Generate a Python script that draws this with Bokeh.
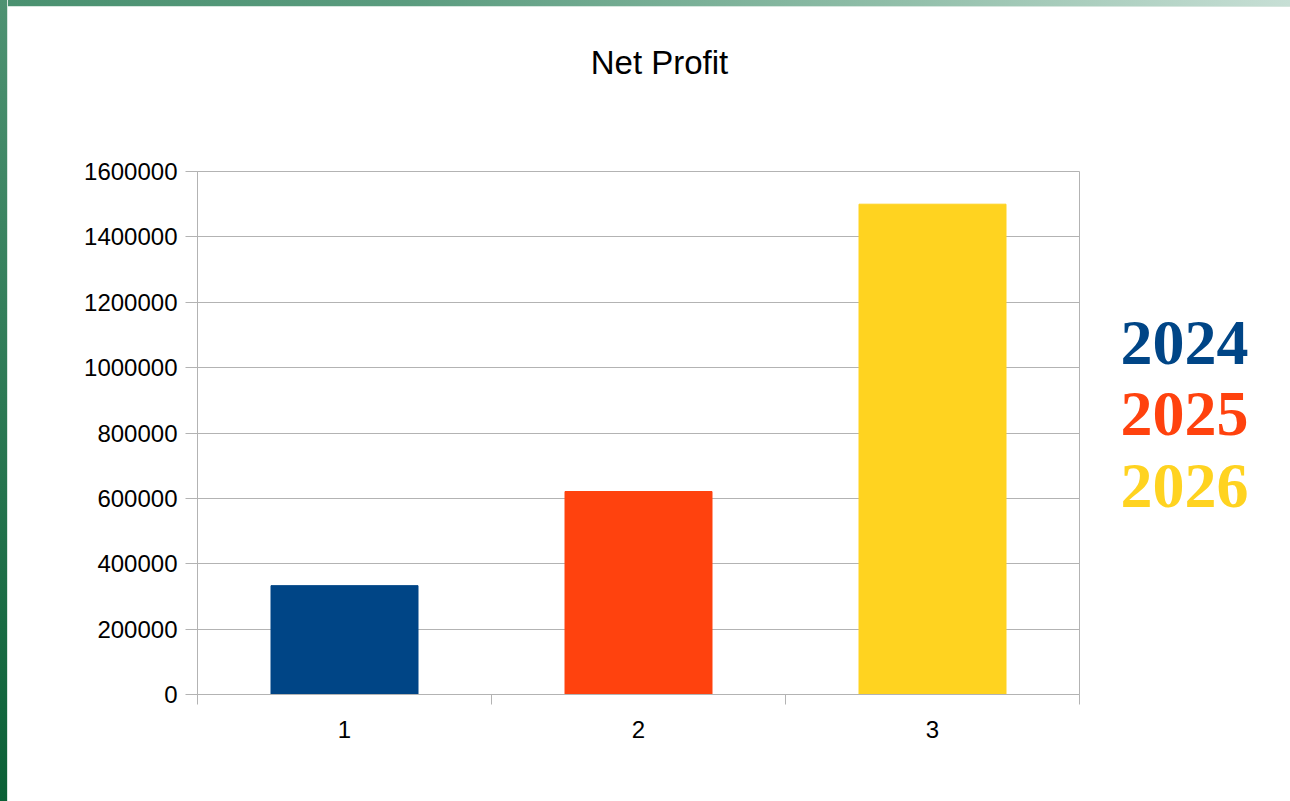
from bokeh.plotting import figure
from bokeh.layouts import row, column
from bokeh.models import ColumnDataSource, FixedTicker, BasicTickFormatter, Range1d, Div
from bokeh.core.properties import value
from bokeh.embed import file_html
from bokeh.resources import INLINE

# ---- data ----
categories = ["1", "2", "3"]
net_profit = [333000, 621000, 1500000]
years = ["2024", "2025", "2026"]
colors = ["#004586", "#ff420e", "#ffd320"]
y_ticks = [0, 200000, 400000, 600000, 800000, 1000000, 1200000, 1400000, 1600000]
title_text = "Net Profit"

# decorative gradients for the page border
top_band_css = "linear-gradient(to right, #4a9170 0%, #5b9c7f 31%, #92bfaa 70%, #c7dfd5 100%)"
left_band_css = "linear-gradient(to bottom, #4e9272 0%, #0a6036 100%)"

# ---- layout constants (pixels) ----
TOTAL_W, TOTAL_H = 1290, 801
BAND_L, BAND_T = 8, 7
TITLE_H = 113
MAIN_W = 1092
RIGHT_W = TOTAL_W - BAND_L - MAIN_W
MAIN_H = TOTAL_H - BAND_T - TITLE_H
ML, MR, MT, MB = 189, 21, 51, 107
FRAME_TOP = BAND_T + TITLE_H + MT
FRAME_BOT = TOTAL_H - MB


def blank(w, h, xr, yr, **kw):
    f = figure(width=w, height=h, output_backend="svg", toolbar_location=None,
               x_range=xr, y_range=yr, x_axis_location=None, y_axis_location=None,
               background_fill_color="white", border_fill_color="white", **kw)
    f.grid.visible = False
    f.outline_line_color = None
    return f


band_left = Div(text="", width=BAND_L, height=TOTAL_H, margin=0,
                styles={"background": left_band_css, "border-right": "1px solid #d6e6de",
                        "box-sizing": "border-box", "padding": "0"})
band_top = Div(text="", width=TOTAL_W - BAND_L, height=BAND_T, margin=0,
               styles={"background": top_band_css, "border-bottom": "1px solid #d6e6de",
                       "box-sizing": "border-box", "padding": "0"})

# title strip
title_fig = blank(TOTAL_W - BAND_L, TITLE_H, Range1d(0, TOTAL_W - BAND_L), Range1d(TITLE_H, 0),
                  min_border=0)
title_fig.text(x=[651], y=[55], text=[title_text], text_font=value("Liberation Sans"),
               text_font_size="33px", text_color="black", text_align="center",
               text_baseline="middle")

# main chart
xs = [i + 1 for i in range(len(categories))]
src = ColumnDataSource(dict(x=xs, top=net_profit, color=colors))

p = figure(width=MAIN_W, height=MAIN_H, output_backend="svg", toolbar_location=None,
           x_range=Range1d(0.5, len(categories) + 0.5), y_range=Range1d(0, 1600000),
           min_border_left=ML, min_border_right=MR, min_border_top=MT, min_border_bottom=MB,
           background_fill_color="white", border_fill_color="white")
p.vbar(x="x", top="top", width=0.5, color="color", source=src)

grey = "#b3b3b3"
p.outline_line_color = grey
p.xgrid.visible = False
p.ygrid.grid_line_color = grey
p.ygrid.ticker = FixedTicker(ticks=y_ticks)

p.xaxis.ticker = FixedTicker(ticks=xs, minor_ticks=[x - 0.5 for x in xs] + [xs[-1] + 0.5])
p.xaxis.major_label_overrides = {x: c for x, c in zip(xs, categories)}
p.xaxis.major_tick_out = 0
p.xaxis.major_tick_in = 0
p.xaxis.minor_tick_out = 10
p.xaxis.minor_tick_in = 0
p.xaxis.minor_tick_line_color = grey
p.xaxis.axis_line_color = grey
p.xaxis.major_label_standoff = 16

p.yaxis.ticker = FixedTicker(ticks=y_ticks)
p.yaxis.formatter = BasicTickFormatter(use_scientific=False)
p.yaxis.major_tick_out = 12
p.yaxis.major_tick_in = 0
p.yaxis.minor_tick_line_color = None
p.yaxis.major_tick_line_color = grey
p.yaxis.axis_line_color = grey
p.yaxis.major_label_standoff = 8

for ax in (p.xaxis, p.yaxis):
    ax.major_label_text_font = "Liberation Sans"
    ax.major_label_text_font_size = "24px"
    ax.major_label_text_color = "black"

# year legend strip (to the right of the chart)
legend_fig = blank(RIGHT_W, MAIN_H, Range1d(0, RIGHT_W), Range1d(FRAME_BOT, FRAME_TOP),
                   min_border_left=0, min_border_right=0, min_border_top=MT, min_border_bottom=MB)
year_baseline0 = 342   # strip-frame coordinate of the first baseline (frame sits ~24px lower)
year_step = 71.5
legend_fig.text(x=[20] * len(years), y=[year_baseline0 + i * year_step for i in range(len(years))],
                text=years, text_color=colors, text_font=value("Liberation Serif"),
                text_font_style="bold", text_font_size="64px",
                text_align="left", text_baseline="alphabetic")

layout = row(band_left, column(band_top, title_fig, row(p, legend_fig)))
open("out.html", "w").write(file_html(layout, INLINE))
